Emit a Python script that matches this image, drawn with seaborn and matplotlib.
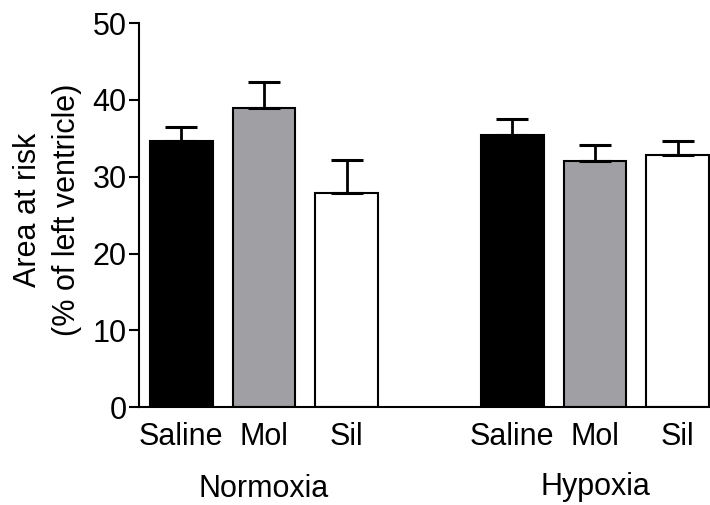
import pandas as pd
import matplotlib
matplotlib.use('Agg')
import matplotlib.pyplot as plt
import matplotlib.transforms as mtransforms
import seaborn as sns
import numpy as np

# data
groups = ['Normoxia', 'Normoxia', 'Normoxia', 'Hypoxia', 'Hypoxia', 'Hypoxia']
treatments = ['Saline', 'Mol', 'Sil', 'Saline', 'Mol', 'Sil']
means = [34.7, 38.9, 27.9, 35.4, 32.1, 32.8]
sems = [1.8, 3.5, 4.3, 2.1, 2.1, 1.9]
positions = [0, 1, 2, 4, 5, 6]
colors = {'Saline': '#000000', 'Mol': '#a0a0a4', 'Sil': '#ffffff'}

df = pd.DataFrame({'group': groups, 'treatment': treatments,
                   'mean': means, 'sem': sems, 'pos': positions})

sns.set_style('ticks')
plt.rcParams['font.family'] = ['Liberation Sans', 'DejaVu Sans']
plt.rcParams.update({'text.color': 'black', 'axes.labelcolor': 'black',
                     'xtick.color': 'black', 'ytick.color': 'black',
                     'axes.edgecolor': 'black'})

fig = plt.figure(figsize=(7.1, 5.05), dpi=100)
ax = fig.add_axes([0.196, 0.194, 0.804, 0.760])

sns.barplot(data=df, x='pos', y='mean', hue='treatment', palette=colors,
            native_scale=True, dodge=False, width=0.76, edgecolor='black',
            linewidth=1.5, errorbar=None, legend=False, ax=ax)

ax.errorbar(df['pos'], df['mean'], yerr=[np.zeros(len(df)), df['sem']],
            fmt='none', ecolor='black', elinewidth=2, capsize=11.5, capthick=2.2)

ax.set_xlim(-0.508, 6.39)
ax.set_ylim(0, 50)
ax.set_yticks([0, 10, 20, 30, 40, 50])
ax.set_xticks(positions)
ax.set_xticklabels(treatments)
ax.tick_params(axis='x', length=0, labelsize=22, pad=11)
ax.tick_params(axis='y', length=7, width=1.5, labelsize=22, pad=2)
for s in ['top', 'right']:
    ax.spines[s].set_visible(False)
for s in ['left', 'bottom']:
    ax.spines[s].set_linewidth(1.5)

ax.set_xlabel('')
ax.set_ylabel('')
fig.text(0.067, 0.584, 'Area at risk\n(% of left ventricle)', rotation=90,
         ha='center', va='center', multialignment='center', fontsize=22,
         linespacing=1.4)

trans = mtransforms.blended_transform_factory(ax.transData, ax.transAxes)
ax.text(1, -0.2346, 'Normoxia', transform=trans, ha='center', va='baseline', fontsize=22)
ax.text(5, -0.229, 'Hypoxia', transform=trans, ha='center', va='baseline', fontsize=22)

plt.savefig('out.png', dpi=100)
